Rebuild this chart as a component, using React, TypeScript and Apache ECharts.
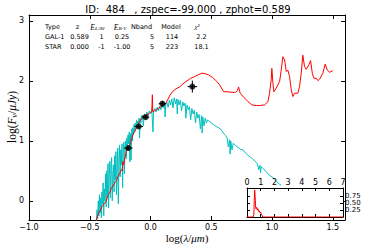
import React, { useEffect, useRef } from "react";
import * as echarts from "echarts";

// ---- data ----
const titleText = "ID:  484   , zspec=-99.000 , zphot=0.589";

const xTickValues = [-1, -0.5, 0, 0.5, 1, 1.5];
const yTickValues = [0, 1, 2, 3];
const insetXTicks = [0, 1, 2, 3, 4, 5, 6, 7];
const insetYTicks = [0.25, 0.5, 0.75];

// galaxy model (red)
const galaxyModel: number[][] = [
  [-0.446, -0.32], [-0.43, -0.22], [-0.419, -0.18], [-0.4, -0.1], [-0.391, -0.07], [-0.375, -0.03],
  [-0.364, -0.01], [-0.35, 0.1], [-0.335, 0.14], [-0.322, 0.21], [-0.31, 0.25], [-0.295, 0.295],
  [-0.28, 0.34], [-0.268, 0.405], [-0.255, 0.45], [-0.24, 0.52], [-0.233, 0.5], [-0.227, 0.655],
  [-0.22, 0.6], [-0.213, 0.71], [-0.199, 0.82], [-0.186, 0.88], [-0.172, 0.93], [-0.16, 1.0],
  [-0.145, 1.1], [-0.13, 1.16], [-0.117, 1.21], [-0.105, 1.27], [-0.09, 1.32], [-0.075, 1.37],
  [-0.0625, 1.405], [-0.04, 1.43], [-0.02, 1.45], [-0.007, 1.46], [0.01, 1.48], [0.015, 1.77],
  [0.018, 1.49], [0.03, 1.5], [0.048, 1.52], [0.07, 1.55], [0.085, 1.57], [0.102, 1.6],
  [0.115, 1.6], [0.13, 1.64], [0.157, 1.75], [0.18, 1.82], [0.21, 1.87], [0.24, 1.9],
  [0.266, 1.95], [0.3, 2.0], [0.327, 2.04], [0.36, 2.07], [0.39, 2.1], [0.423, 2.13],
  [0.45, 2.12], [0.478, 2.1], [0.51, 2.06], [0.546, 1.99], [0.57, 1.93], [0.601, 1.82],
  [0.63, 1.82], [0.67, 1.81], [0.7, 1.81], [0.715, 1.84], [0.724, 1.9], [0.738, 1.795],
  [0.77, 1.72], [0.8, 1.66], [0.834, 1.6], [0.87, 1.59], [0.897, 1.59], [0.938, 1.6],
  [0.966, 1.655], [0.979, 1.795], [0.993, 2.02], [0.998, 2.21], [1.007, 1.96], [1.015, 1.82],
  [1.034, 1.88], [1.062, 1.99], [1.075, 2.18], [1.089, 2.405], [1.103, 2.35], [1.117, 2.155],
  [1.13, 2.18], [1.144, 2.07], [1.158, 1.85], [1.171, 1.74], [1.185, 1.795], [1.212, 1.795],
  [1.226, 1.905], [1.24, 2.13], [1.253, 2.43], [1.267, 2.24], [1.281, 2.195], [1.303, 2.27],
  [1.317, 2.34], [1.331, 2.13], [1.344, 2.045], [1.363, 2.045], [1.377, 2.005], [1.391, 2.03],
  [1.418, 2.13], [1.437, 2.28], [1.454, 2.18], [1.473, 2.145], [1.5, 2.17],
];

// stellar template (cyan)
const starModel: number[][] = [
  [-0.446, -0.35], [-0.44, -0.15], [-0.435, -0.3], [-0.43, 0.0], [-0.425, -0.25], [-0.42, 0.1],
  [-0.415, -0.2], [-0.41, 0.05], [-0.405, -0.28], [-0.4, 0.15], [-0.395, -0.05], [-0.39, 0.3],
  [-0.385, -0.25], [-0.38, 0.2], [-0.375, 0.0], [-0.37, 0.45], [-0.365, -0.1], [-0.36, 0.5],
  [-0.355, 0.1], [-0.35, 0.62], [-0.345, -0.12], [-0.34, 0.4], [-0.335, 0.66], [-0.33, 0.05],
  [-0.325, 0.55], [-0.32, 0.72], [-0.315, 0.0], [-0.31, 0.45], [-0.305, 0.6], [-0.3, 0.15],
  [-0.295, 0.75], [-0.29, 0.35], [-0.285, 0.82], [-0.28, 0.1], [-0.275, 0.6], [-0.27, 0.88],
  [-0.265, -0.05], [-0.26, 0.7], [-0.255, 0.93], [-0.25, 0.4], [-0.245, 0.85], [-0.24, 0.6],
  [-0.235, 0.95], [-0.23, 0.22], [-0.225, 0.8], [-0.22, 0.98], [-0.215, 0.45], [-0.21, 0.9],
  [-0.205, 1.0], [-0.2, 0.7], [-0.195, 1.05], [-0.19, 0.85], [-0.185, 1.1], [-0.18, 0.95],
  [-0.175, 1.15], [-0.17, 0.65], [-0.165, 1.12], [-0.16, 0.68], [-0.155, 1.2], [-0.15, 1.0],
  [-0.145, 1.22], [-0.14, 1.1], [-0.135, 1.28], [-0.13, 1.15], [-0.125, 1.3], [-0.12, 1.2],
  [-0.115, 1.35], [-0.11, 1.22], [-0.105, 1.33], [-0.1, 1.28], [-0.095, 1.38], [-0.09, 1.05],
  [-0.085, 1.37], [-0.08, 1.3], [-0.075, 1.42], [-0.07, 1.35], [-0.065, 1.43], [-0.06, 1.25],
  [-0.05, 1.45], [-0.04, 1.4], [-0.03, 1.48], [-0.02, 1.42], [-0.01, 1.5], [0.0, 1.46],
  [0.01, 1.52], [0.02, 1.15], [0.025, 1.5], [0.035, 1.54], [0.045, 1.48], [0.055, 1.56],
  [0.065, 1.5], [0.075, 1.58], [0.085, 1.52], [0.095, 1.6], [0.105, 1.55], [0.115, 1.62],
  [0.12, 1.4], [0.125, 1.6], [0.135, 1.64], [0.145, 1.56], [0.155, 1.68], [0.165, 1.6],
  [0.175, 1.7], [0.185, 1.55], [0.195, 1.72], [0.205, 1.62], [0.215, 1.7], [0.22, 1.45],
  [0.225, 1.69], [0.235, 1.6], [0.245, 1.68], [0.255, 1.5], [0.265, 1.65], [0.275, 1.58],
  [0.285, 1.63], [0.29, 1.38], [0.3, 1.6], [0.31, 1.52], [0.32, 1.57], [0.33, 1.35],
  [0.34, 1.54], [0.35, 1.45], [0.36, 1.51], [0.37, 1.3], [0.38, 1.48], [0.39, 1.38],
  [0.4, 1.44], [0.41, 1.2], [0.42, 1.42], [0.425, 1.13], [0.43, 1.4], [0.44, 1.25],
  [0.45, 1.38], [0.46, 1.3], [0.47, 1.35], [0.48, 1.33], [0.5, 1.3], [0.52, 1.27],
  [0.54, 1.24], [0.56, 1.22], [0.58, 1.19], [0.6, 1.13], [0.61, 1.1], [0.62, 1.08],
  [0.63, 1.05], [0.64, 0.9], [0.65, 1.02], [0.655, 0.78], [0.66, 1.0], [0.67, 0.85],
  [0.68, 0.96], [0.7, 0.92], [0.72, 0.89], [0.74, 0.86], [0.76, 0.85], [0.78, 0.8],
  [0.8, 0.76], [0.82, 0.73], [0.84, 0.7], [0.86, 0.66], [0.88, 0.62], [0.89, 0.52],
  [0.9, 0.59], [0.905, 0.47], [0.91, 0.57], [0.93, 0.53], [0.95, 0.49], [0.97, 0.44],
  [0.99, 0.41], [1.0, 0.4], [1.02, 0.36], [1.04, 0.32], [1.06, 0.28], [1.075, 0.26],
];

// photometry
const photX = [-0.183, -0.097, -0.04, 0.097, 0.344];
const photY = [0.88, 1.24, 1.395, 1.62, 1.905];
const photXErr = [0.035, 0.035, 0.03, 0.03, 0.04];
const photYErr = [0.03, 0.03, 0.03, 0.05, 0.1];

// P(z)
const pzX = [0, 0.45, 0.5, 0.53, 0.56, 0.58, 0.6, 0.62, 0.65, 0.7, 0.75, 0.8, 0.85, 0.9, 0.95, 1.0, 1.05, 1.1, 1.15, 7];
const pzY = [0, 0, 0.1, 0.6, 0.98, 1.0, 0.7, 0.4, 0.3, 0.35, 0.25, 0.3, 0.2, 0.22, 0.15, 0.18, 0.1, 0.05, 0, 0];

// table
const tableHeader = ["Type", "z", "E_LAW", "E_B-V", "Nband", "Model", "χ²"];
const tableRow1 = ["GAL-1", "0.589", "1", "0.25", "5", "114", "2.2"];
const tableRow2 = ["STAR", "0.000", "-1", "-1.00", "5", "223", "18.1"];

const SANS = "DejaVu Sans";
const SERIF = "Liberation Serif";

export default function App() {
  const ref = useRef<HTMLDivElement>(null);
  useEffect(() => {
    if (!ref.current) return;
    const chart = echarts.init(ref.current, undefined, { renderer: "svg" });

    const fmtX = (v: number) => (v < 0 ? "\u2212" : "") + Math.abs(v).toFixed(1);

    const axisLine = { show: true, onZero: false, lineStyle: { color: "#000", width: 1 } };
    const mainX = (pos: string, labels: boolean) => ({
      gridIndex: 0,
      type: "value",
      min: -1,
      max: 1.6,
      position: pos,
      axisLine,
      splitLine: { show: false },
      axisTick: { show: true, inside: true, length: 4, customValues: xTickValues, lineStyle: { color: "#000" } },
      axisLabel: {
        show: labels,
        customValues: xTickValues,
        formatter: fmtX,
        fontSize: 8,
        fontFamily: SANS,
        color: "#000",
        margin: 3,
      },
    });
    const mainY = (pos: string, labels: boolean) => ({
      gridIndex: 0,
      type: "value",
      min: -0.32,
      max: 3.1,
      position: pos,
      axisLine,
      splitLine: { show: false },
      axisTick: { show: true, inside: true, length: 4, customValues: yTickValues, lineStyle: { color: "#000" } },
      axisLabel: {
        show: labels,
        customValues: yTickValues,
        formatter: (v: number) => String(v),
        fontSize: 8,
        fontFamily: SANS,
        color: "#000",
        margin: 5,
      },
    });
    const insetX = (pos: string, labels: boolean) => ({
      gridIndex: 1,
      type: "value",
      min: 0,
      max: 7,
      position: pos,
      z: 5,
      axisLine,
      splitLine: { show: false },
      axisTick: { show: true, inside: true, length: 3, customValues: insetXTicks, lineStyle: { color: "#000" } },
      axisLabel: {
        show: labels,
        customValues: insetXTicks,
        formatter: (v: number) => String(v),
        fontSize: 8,
        fontFamily: SANS,
        color: "#000",
        margin: 2,
      },
    });
    const insetY = (pos: string, labels: boolean) => ({
      gridIndex: 1,
      type: "value",
      min: 0,
      max: 1.05,
      position: pos,
      z: 5,
      axisLine,
      splitLine: { show: false },
      axisTick: { show: true, inside: true, length: 3, customValues: insetYTicks, lineStyle: { color: "#000" } },
      axisLabel: {
        show: labels,
        customValues: insetYTicks,
        formatter: (v: number) => v.toFixed(2),
        fontSize: 7,
        fontFamily: SANS,
        color: "#000",
        margin: 2,
      },
    });

    const errData = photX.map((x, i) => [x, photY[i], photXErr[i], photYErr[i]]);
    const scatterData = photX.map((x, i) => [x, photY[i]]);
    const pzData = pzX.map((x, i) => [x, pzY[i]]);

    const colCenters = [null, 77.5, 97.5, 120, 141.5, 171, 197];
    const valCenters = [null, 79.5, 101.5, 122, 152, 172, 201.5];
    const rowsY = [27, 37.3, 47];

    const tableTexts: any[] = [];
    const plain = (text: string, x: number, y: number, align: string) => ({
      type: "text",
      x,
      y,
      style: { text, fontSize: 6.5, fontFamily: SANS, fill: "#000", align, verticalAlign: "middle" },
    });
    tableHeader.forEach((h, i) => {
      if (i === 0) tableTexts.push(plain(h, 45, rowsY[0], "left"));
      else if (i === 2 || i === 3) {
        const sub = h.split("_")[1];
        tableTexts.push({
          type: "text",
          x: colCenters[i] as number,
          y: rowsY[0],
          style: {
            text: "{e|E}{s|" + sub + "}",
            align: "center",
            verticalAlign: "middle",
            rich: {
              e: { fontFamily: SERIF, fontStyle: "italic", fontSize: 7.5, fill: "#000" },
              s: { fontFamily: SERIF, fontStyle: "italic", fontSize: 5, fill: "#000", verticalAlign: "bottom" },
            },
          },
        });
      } else if (i === 6) {
        tableTexts.push({
          type: "text",
          x: colCenters[i] as number,
          y: rowsY[0],
          style: { text: h, fontSize: 7, fontFamily: SERIF, fontStyle: "italic", fill: "#000", align: "center", verticalAlign: "middle" },
        });
      } else tableTexts.push(plain(h, colCenters[i] as number, rowsY[0], "center"));
    });
    [tableRow1, tableRow2].forEach((row, r) => {
      row.forEach((v, i) => {
        if (i === 0) tableTexts.push(plain(v, 45, rowsY[r + 1], "left"));
        else tableTexts.push(plain(v, valCenters[i] as number, rowsY[r + 1], "center"));
      });
    });

    const option: any = {
      animation: false,
      backgroundColor: "#fff",
      grid: [
        { left: 29, top: 15, width: 316, height: 205, show: false },
        { left: 247, top: 188, width: 96, height: 29, show: true, backgroundColor: "#fff", borderWidth: 0, z: 3 },
      ],
      xAxis: [mainX("bottom", true), mainX("top", false), insetX("top", true), insetX("bottom", false)],
      yAxis: [mainY("left", true), mainY("right", false), insetY("right", true), insetY("left", false)],
      series: [
        {
          type: "line",
          xAxisIndex: 0,
          yAxisIndex: 0,
          data: starModel,
          showSymbol: false,
          symbol: "none",
          lineStyle: { color: "#00bfbf", width: 1 },
          z: 2,
        },
        {
          type: "line",
          xAxisIndex: 0,
          yAxisIndex: 0,
          data: galaxyModel,
          showSymbol: false,
          symbol: "none",
          lineStyle: { color: "#ff0000", width: 1 },
          z: 3,
        },
        {
          type: "custom",
          xAxisIndex: 0,
          yAxisIndex: 0,
          data: errData,
          z: 4,
          renderItem: (params: any, api: any) => {
            const x = api.value(0);
            const y = api.value(1);
            const ex = api.value(2);
            const ey = api.value(3);
            const a = api.coord([x - ex, y]);
            const b = api.coord([x + ex, y]);
            const c = api.coord([x, y - ey]);
            const d = api.coord([x, y + ey]);
            return {
              type: "group",
              children: [
                { type: "line", shape: { x1: a[0], y1: a[1], x2: b[0], y2: b[1] }, style: { stroke: "#000", lineWidth: 1 } },
                { type: "line", shape: { x1: c[0], y1: c[1], x2: d[0], y2: d[1] }, style: { stroke: "#000", lineWidth: 1 } },
              ],
            };
          },
        },
        {
          type: "scatter",
          xAxisIndex: 0,
          yAxisIndex: 0,
          data: scatterData,
          symbol: "circle",
          symbolSize: 6,
          itemStyle: { color: "#000" },
          z: 5,
        },
        {
          type: "line",
          xAxisIndex: 2,
          yAxisIndex: 2,
          data: pzData,
          showSymbol: false,
          symbol: "none",
          lineStyle: { color: "#ff0000", width: 1 },
          z: 6,
        },
      ],
      graphic: [
        {
          type: "text",
          x: 188,
          y: 9.5,
          style: { text: titleText, fontSize: 10, fontFamily: SANS, fill: "#000", align: "center", verticalAlign: "middle" },
        },
        ...tableTexts,
        {
          type: "text",
          x: 187,
          y: 237.5,
          style: {
            text: "{r|log(}{i|λ}{r|/}{i|μm}{r|)}",
            align: "center",
            verticalAlign: "middle",
            rich: {
              r: { fontFamily: SERIF, fontSize: 11, fill: "#000" },
              i: { fontFamily: SERIF, fontStyle: "italic", fontSize: 11, fill: "#000" },
            },
          },
        },
        {
          type: "text",
          x: 12,
          y: 117,
          rotation: Math.PI / 2,
          style: {
            text: "{r|log(}{i|F}{s|ν}{r|/}{i|μJy}{r|)}",
            align: "center",
            verticalAlign: "middle",
            rich: {
              r: { fontFamily: SERIF, fontSize: 11.5, fill: "#000" },
              i: { fontFamily: SERIF, fontStyle: "italic", fontSize: 11.5, fill: "#000" },
              s: { fontFamily: SERIF, fontStyle: "italic", fontSize: 8, fill: "#000", verticalAlign: "bottom" },
            },
          },
        },
      ],
    };
    chart.setOption(option);
    return () => chart.dispose();
  }, []);
  return <div ref={ref} style={{ position: "fixed", left: 0, top: 0, width: 368, height: 245 }} />;
}
